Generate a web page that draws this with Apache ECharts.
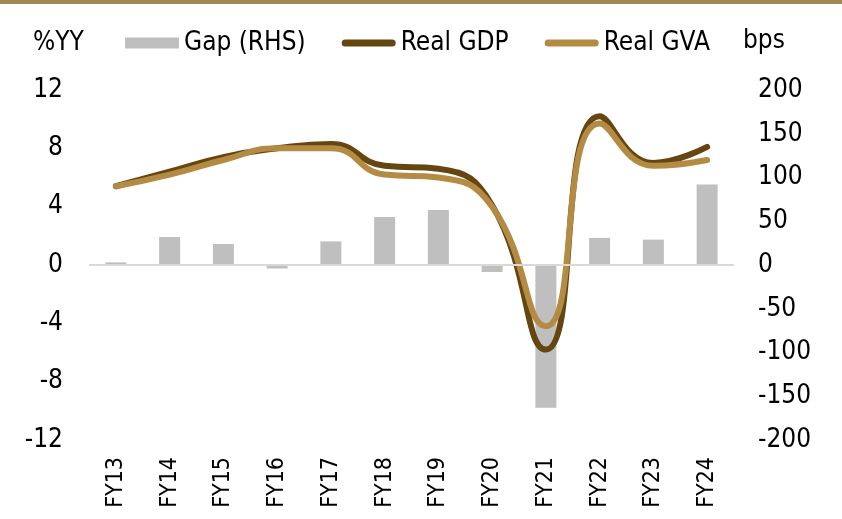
<!DOCTYPE html>
<html lang="en">
<head>
  <meta charset="UTF-8">
  <title>Real GDP vs GVA</title>
  <script src="https://cdn.jsdelivr.net/npm/echarts@6/dist/echarts.min.js"></script>
  <style>
    html, body { margin: 0; padding: 0; background: #fff; }
  </style>
</head>
<body>
  <div id="main" style="width:842px; height:519px;"></div>
  <script>
    // data
    var years = ['FY13','FY14','FY15','FY16','FY17','FY18','FY19','FY20','FY21','FY22','FY23','FY24'];
    var gapBps = [3, 32, 24, -4, 27, 55, 63, -8, -163, 31, 29, 92];
    var realGdp = [5.4, 6.4, 7.4, 8.0, 8.3, 6.8, 6.6, 4.1, -5.8, 10.2, 7.0, 8.1];
    var realGva = [5.4, 6.2, 7.2, 8.0, 8.0, 6.2, 6.0, 4.0, -4.2, 9.7, 6.8, 7.2];

    var font = 'DejaVu Sans Condensed';
    var lineIcon = 'path://M3.5,0L50.5,0A3.5,3.5,0,0,1,50.5,7L3.5,7A3.5,3.5,0,0,1,3.5,0Z';
    var chart = echarts.init(document.getElementById('main'));

    var option = {
      backgroundColor: '#fff',
      textStyle: { fontFamily: font },
      animation: false,
      graphic: [
        { type: 'rect', left: 0, top: 0, shape: { width: 842, height: 4 }, style: { fill: '#9E8853' } },
        { type: 'text', left: 33, top: 30, style: { text: '%YY', fontFamily: font, fontSize: 26, fill: '#000' } },
        { type: 'text', left: 743, top: 28, style: { text: 'bps', fontFamily: font, fontSize: 26, fill: '#000' } }
      ],
      legend: {
        left: 120, top: 25,
        itemWidth: 54, itemHeight: 13, itemGap: 36,
        textStyle: { fontFamily: font, fontSize: 26, color: '#000' },
        data: [
          { name: 'Gap (RHS)', icon: 'path://M0,0L54,0L54,11L0,11Z' },
          { name: 'Real GDP', icon: lineIcon },
          { name: 'Real GVA', icon: lineIcon }
        ]
      },
      grid: { left: 89, right: 108, top: 90, bottom: 79 },
      xAxis: {
        type: 'category',
        data: years,
        axisLine: { show: false },
        axisTick: { show: false },
        axisLabel: { rotate: 90, margin: 17, fontFamily: font, fontSize: 23, color: '#000' }
      },
      yAxis: [
        {
          type: 'value', min: -12, max: 12, interval: 4,
          splitLine: { show: false }, axisLine: { show: false }, axisTick: { show: false },
          axisLabel: { margin: 26, fontFamily: font, fontSize: 26, color: '#000' }
        },
        {
          type: 'value', min: -200, max: 200, interval: 50,
          splitLine: { show: false }, axisLine: { show: false }, axisTick: { show: false },
          axisLabel: { margin: 24, fontFamily: font, fontSize: 26, color: '#000' }
        }
      ],
      series: [
        {
          name: 'Gap (RHS)', type: 'bar', yAxisIndex: 1, data: gapBps,
          barWidth: 21, itemStyle: { color: '#BFBFBF' },
          markLine: {
            silent: true, symbol: 'none', label: { show: false },
            lineStyle: { color: '#D9D9D9', width: 2, type: 'solid' },
            data: [{ yAxis: 0 }]
          }
        },
        {
          name: 'Real GDP', type: 'line', data: realGdp, smooth: 0.5,
          symbol: 'none', z: 3,
          lineStyle: { color: '#654510', width: 6, cap: 'round' },
          itemStyle: { color: '#654510' }
        },
        {
          name: 'Real GVA', type: 'line', data: realGva, smooth: 0.5,
          symbol: 'none', z: 4,
          lineStyle: { color: '#B38B42', width: 6, cap: 'round' },
          itemStyle: { color: '#B38B42' }
        }
      ]
    };

    chart.setOption(option);
  </script>
</body>
</html>
